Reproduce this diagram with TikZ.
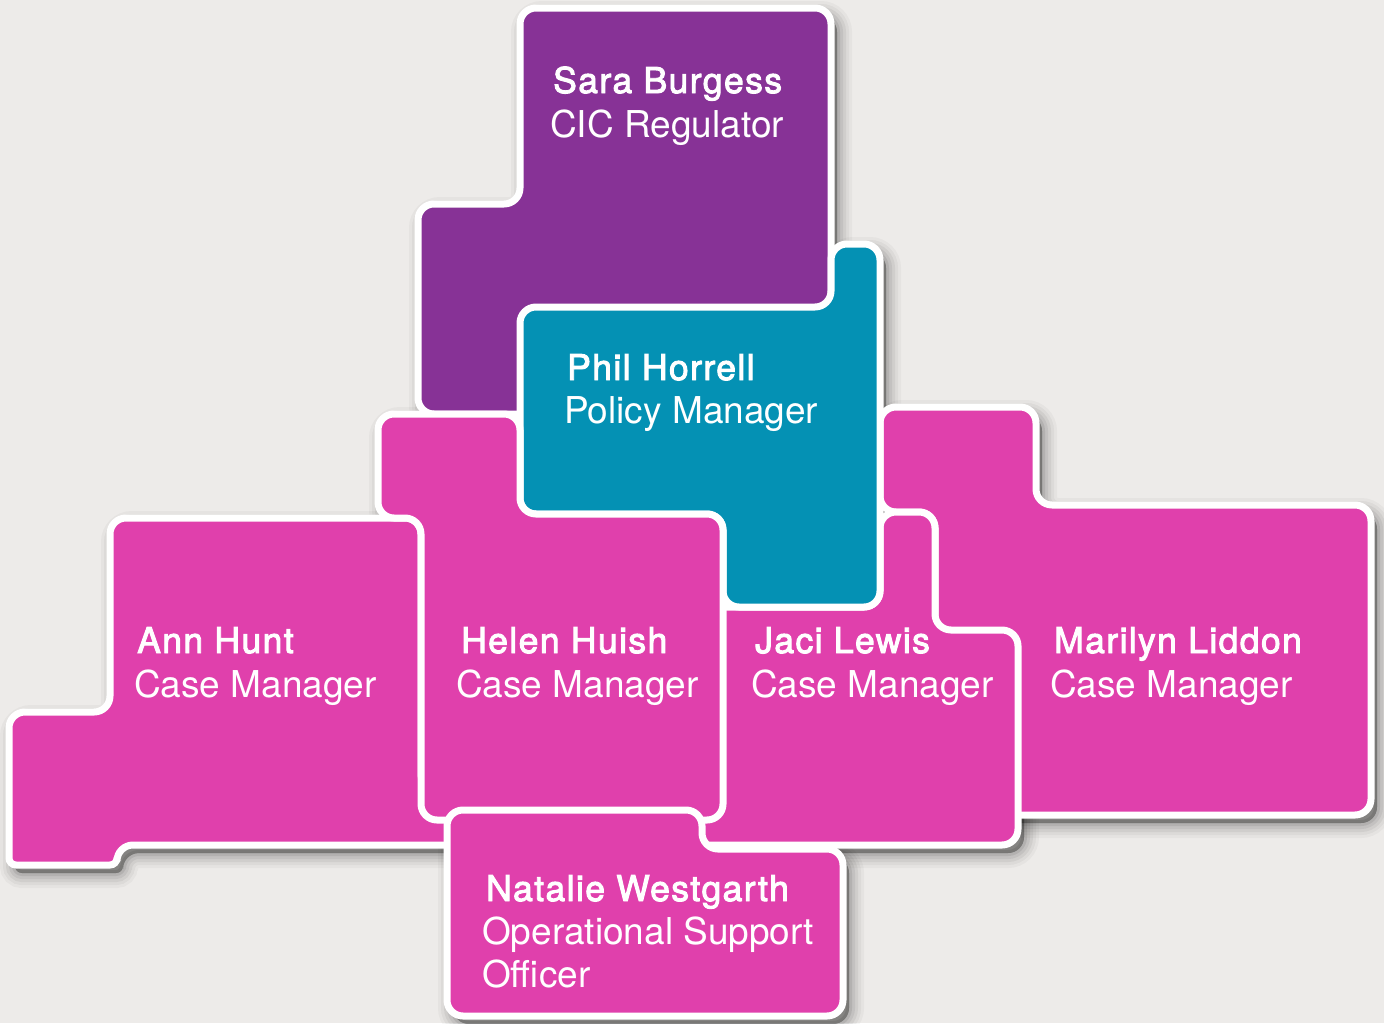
\documentclass[tikz,border=0pt]{standalone}
\usepackage{fontspec}
\setmainfont{TeX Gyre Heros}
\newfontfamily\namefont[FakeBold=2.6, LetterSpace=4.0]{TeX Gyre Heros}

\definecolor{bgcol}{RGB}{237,235,233}
\definecolor{sarapurple}{RGB}{135,50,150}
\definecolor{philteal}{RGB}{4,145,180}
\definecolor{casepink}{RGB}{224,64,172}

% outlines of the pieces, in pixels from the top left corner
\def\sarashape{(418,204) -- (520,204) -- (520,8) -- (831,8) -- (831,414) -- (418,414) -- cycle}
\def\philshape{(520,307) -- (831,307) -- (831,244) -- (880,244) -- (880,607) -- (723,607) -- (723,514) -- (520,514) -- cycle}
\def\helenshape{(378,414) -- (520,414) -- (520,514) -- (723,514) -- (723,820) -- (421,820) -- (421,518) -- (378,518) -- cycle}
\def\annshape{(9,712) -- (110,712) -- (110,518) -- (421,518) -- (421,790) -- (480,790) -- (480,845) -- (117,845) [rounded corners=7pt] -- (117,865) -- (9,865) [rounded corners=16pt] -- cycle}
\def\jacishape{(650,607) -- (880,607) -- (880,512) -- (935,512) -- (935,630) -- (1018,630) -- (1018,845) -- (650,845) -- cycle}
\def\marilynshape{(880,407) -- (1036,407) -- (1036,505) -- (1371,505) -- (1371,815) -- (980,815) -- (980,660) -- (935,660) -- (935,512) -- (880,512) -- cycle}
\def\natalieshape{(447,810) -- (702,810) -- (702,849) -- (843,849) -- (843,1016) -- (447,1016) -- cycle}

\begin{document}
\begin{tikzpicture}[x=1pt,y=-1pt]
    \tikzset{piece/.style = {draw=white, line width=7pt, rounded corners=16pt}}
    \tikzset{nametext/.style = {anchor=base west, inner sep=0pt, text=white, font=\fontsize{35.5}{42}\namefont}}
    \tikzset{roletext/.style = {anchor=base west, inner sep=0pt, text=white, font=\fontsize{37}{44}\selectfont}}

    \useasboundingbox (0,0) rectangle (1384,1023);
    \clip (0,0) rectangle (1384,1023);
    \fill[bgcol] (0,0) rectangle (1384,1023);

    % soft shadows first
    \foreach \s in {\sarashape,\annshape,\marilynshape,\jacishape,\philshape,\helenshape,\natalieshape}
        \foreach \w/\o in {30/0.03,24/0.04,18/0.05,12/0.06,6/0.08,0.1/0.1}
            \path[fill=black, draw=black, fill opacity=\o, draw opacity=\o, line width=\w pt,
                  rounded corners=16pt, shift={(6,8)}] \s;

    % pieces, back to front
    \path[piece, fill=sarapurple] \sarashape;
    \path[piece, fill=casepink] \annshape;
    \path[piece, fill=casepink] \marilynshape;
    \path[piece, fill=casepink] \jacishape;
    \path[piece, fill=philteal] \philshape;
    \path[piece, fill=casepink] \helenshape;
    \path[piece, fill=casepink] \natalieshape;

    \node[nametext] (sara) at (553,93) {Sara Burgess};
    \node[roletext] (sararole) at (550,137) {CIC Regulator};
    \node[nametext] (phil) at (567,380) {Phil Horrell};
    \node[roletext] (philrole) at (564,423) {Policy Manager};
    \node[nametext] (ann) at (137,653) {Ann Hunt};
    \node[roletext] (annrole) at (134,697) {Case Manager};
    \node[nametext] (helen) at (461,653) {Helen Huish};
    \node[roletext] (helenrole) at (456,697) {Case Manager};
    \node[nametext] (jaci) at (755,653) {Jaci Lewis};
    \node[roletext] (jacirole) at (751,697) {Case Manager};
    \node[nametext] (marilyn) at (1054,653) {Marilyn Liddon};
    \node[roletext] (marilynrole) at (1050,697) {Case Manager};
    \node[nametext] (natalie) at (486,901) {Natalie Westgarth};
    \node[roletext] (natalierole) at (482,944) {Operational Support};
    \node[roletext] (natalierole2) at (482,987) {Officer};
\end{tikzpicture}
\end{document}
